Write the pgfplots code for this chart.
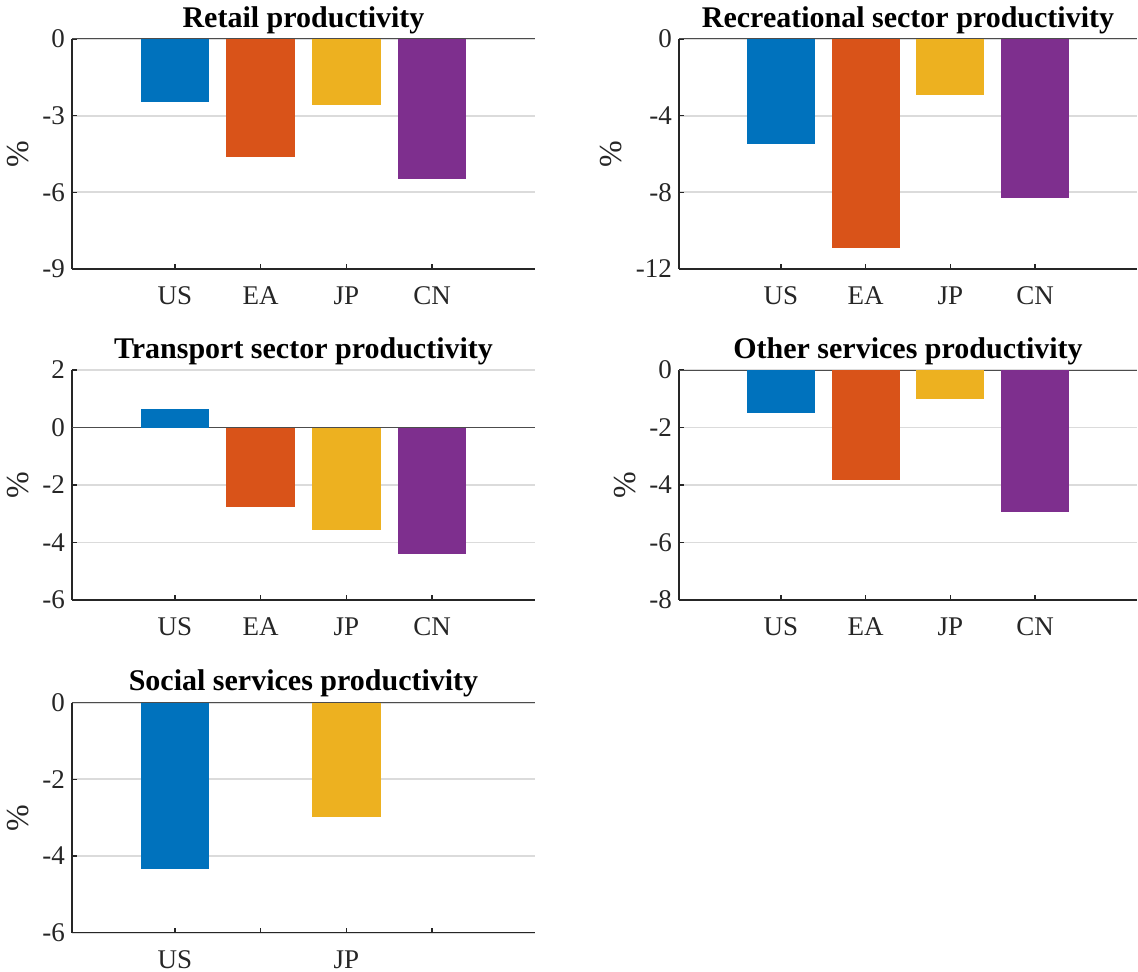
\documentclass[border=0pt]{standalone}
\usepackage{fontspec}
\setmainfont{Liberation Serif}
\usepackage{pgfplots}
\pgfplotsset{compat=1.18}
\definecolor{mUS}{HTML}{0072BD}
\definecolor{mEA}{HTML}{D95319}
\definecolor{mJP}{HTML}{EDB120}
\definecolor{mCN}{HTML}{7E2F8E}
\definecolor{axc}{HTML}{262626}
\pgfplotsset{
  myax/.style={
    scale only axis, height=115pt, anchor=south west,
    axis x line*=bottom, axis y line*=left,
    xmin=-0.2, xmax=5.2, xtick={1,2,3,4},
    ybar, bar width=0.8, bar shift=0pt,
    ymajorgrids, grid style={black!14, line width=0.9pt},
    extra y ticks={0}, extra y tick labels={},
    extra y tick style={grid style={black!70, line width=0.5pt}, major tick length=0pt},
    tick align=inside, major tick length=2.5pt,
    axis line style={color=axc, line width=0.8pt},
    every tick/.style={axc, line width=0.8pt},
    tick label style={font=\fontsize{13.5}{15}\selectfont, text=axc},
    xticklabel style={yshift=-5.5pt},
    ylabel={\%}, ylabel style={font=\fontsize{16}{17}\selectfont, text=axc},
    title style={font=\bfseries\fontsize{15}{17}\selectfont, at={(0.5,1)}, anchor=south, inner sep=1.5pt, yshift=-5pt},
  },
}
\begin{document}
\begin{tikzpicture}
\path[use as bounding box] (0,0) rectangle (569pt,486pt);
% Retail
\begin{axis}[myax, at={(36pt,351.5pt)}, width=231.5pt,
  title={Retail productivity}, xticklabels={US,EA,JP,CN},
  ymin=-9, ymax=0, ytick={-9,-6,-3,0}, yticklabels={-9,-6,-3,0}]
\addplot[fill=mUS, draw=none] coordinates {(1,-2.45)};
\addplot[fill=mEA, draw=none] coordinates {(2,-4.62)};
\addplot[fill=mJP, draw=none] coordinates {(3,-2.58)};
\addplot[fill=mCN, draw=none] coordinates {(4,-5.49)};
\end{axis}
% Recreational
\begin{axis}[myax, at={(339.5pt,351.5pt)}, width=229pt,
  title={Recreational sector productivity}, xticklabels={US,EA,JP,CN},
  ymin=-12, ymax=0, ytick={-12,-8,-4,0}, yticklabels={-12,-8,-4,0}]
\addplot[fill=mUS, draw=none] coordinates {(1,-5.50)};
\addplot[fill=mEA, draw=none] coordinates {(2,-10.92)};
\addplot[fill=mJP, draw=none] coordinates {(3,-2.93)};
\addplot[fill=mCN, draw=none] coordinates {(4,-8.32)};
\end{axis}
% Transport
\begin{axis}[myax, at={(36pt,186pt)}, width=231.5pt,
  title={Transport sector productivity}, xticklabels={US,EA,JP,CN},
  ymin=-6, ymax=2, ytick={-6,-4,-2,0,2}, yticklabels={-6,-4,-2,0,2}]
\addplot[fill=mUS, draw=none] coordinates {(1,0.64)};
\addplot[fill=mEA, draw=none] coordinates {(2,-2.77)};
\addplot[fill=mJP, draw=none] coordinates {(3,-3.57)};
\addplot[fill=mCN, draw=none] coordinates {(4,-4.40)};
\end{axis}
% Other services
\begin{axis}[myax, at={(339.5pt,186pt)}, width=229pt,
  title={Other services productivity}, xticklabels={US,EA,JP,CN},
  ymin=-8, ymax=0, ytick={-8,-6,-4,-2,0}, yticklabels={-8,-6,-4,-2,0}]
\addplot[fill=mUS, draw=none] coordinates {(1,-1.50)};
\addplot[fill=mEA, draw=none] coordinates {(2,-3.82)};
\addplot[fill=mJP, draw=none] coordinates {(3,-1.02)};
\addplot[fill=mCN, draw=none] coordinates {(4,-4.93)};
\end{axis}
% Social services
\begin{axis}[myax, at={(36pt,19.65pt)}, width=231.5pt,
  title={Social services productivity}, xticklabels={US,,JP,},
  ymin=-6, ymax=0, ytick={-6,-4,-2,0}, yticklabels={-6,-4,-2,0}]
\addplot[fill=mUS, draw=none] coordinates {(1,-4.35)};
\addplot[fill=mJP, draw=none] coordinates {(3,-2.97)};
\end{axis}
\end{tikzpicture}
\end{document}
